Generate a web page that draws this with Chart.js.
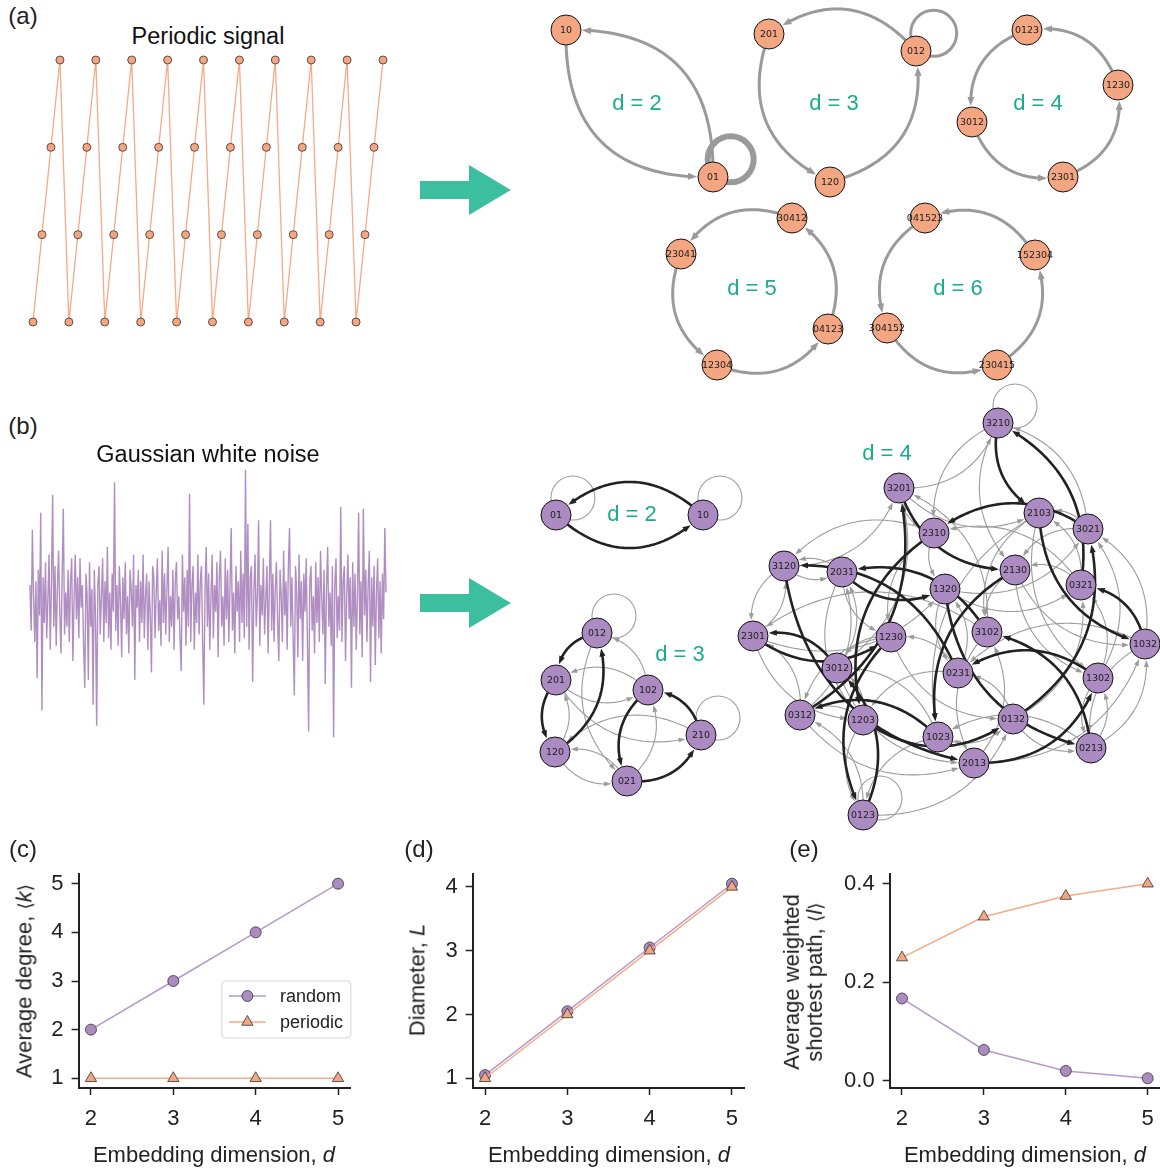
<!DOCTYPE html>
<html>
<head>
<meta charset="utf-8">
<script src="https://cdn.jsdelivr.net/npm/chart.js@4.4.1/dist/chart.umd.min.js"></script>
<style>
html,body{margin:0;padding:0;background:#fff;}
#fig{position:relative;width:1160px;height:1170px;overflow:hidden;background:#fff;font-family:"Liberation Sans",Arial,Helvetica,sans-serif;color:#1a1a1a;}
#fig canvas{position:absolute;}
.t{position:absolute;white-space:nowrap;transform:translate(-50%,-50%);line-height:1;}
.pl{font-size:24px;color:#222;}
.ttl{font-size:23.5px;color:#111;}
.dl{font-size:22px;color:#19ad8b;}
.ax{font-size:22px;color:#222;}
.yax{transform:translate(-50%,-50%) rotate(-90deg);text-align:center;line-height:1.05;}
.br{font-family:"DejaVu Sans",sans-serif;font-size:19px;}
</style>
</head>
<body>
<div id="fig">
  <svg width="1160" height="1170" style="position:absolute;left:0;top:0">
    <polygon points="420,181 469,181 469,165 511,190 469,215 469,199 420,199" fill="#3cbf9f"/>
    <polygon points="420,594 469,594 469,578 511,603 469,628 469,612 420,612" fill="#3cbf9f"/>
  </svg>

  <canvas id="cPer" width="376" height="284" style="left:20px;top:50px"></canvas>
  <canvas id="cNoise" width="376" height="290" style="left:20px;top:460px"></canvas>
  <canvas id="cNetA" width="640" height="390" style="left:520px;top:0px"></canvas>
  <canvas id="cNetB" width="640" height="460" style="left:520px;top:380px"></canvas>
  <canvas id="cDeg" width="380" height="300" style="left:0px;top:860px"></canvas>
  <canvas id="cDia" width="380" height="300" style="left:390px;top:860px"></canvas>
  <canvas id="cPath" width="380" height="300" style="left:780px;top:860px"></canvas>

  <div class="t pl" style="left:23px;top:16px">(a)</div>
  <div class="t pl" style="left:23px;top:426px">(b)</div>
  <div class="t pl" style="left:23px;top:849px">(c)</div>
  <div class="t pl" style="left:419px;top:849px">(d)</div>
  <div class="t pl" style="left:804px;top:849px">(e)</div>

  <div class="t ttl" style="left:208px;top:37px">Periodic signal</div>
  <div class="t ttl" style="left:208px;top:455px">Gaussian white noise</div>

  <div class="t dl" style="left:637px;top:103px">d = 2</div>
  <div class="t dl" style="left:834px;top:103px">d = 3</div>
  <div class="t dl" style="left:1038px;top:103px">d = 4</div>
  <div class="t dl" style="left:752px;top:288px">d = 5</div>
  <div class="t dl" style="left:958px;top:288px">d = 6</div>
  <div class="t dl" style="left:632px;top:514px">d = 2</div>
  <div class="t dl" style="left:680px;top:654px">d = 3</div>
  <div class="t dl" style="left:887px;top:453px">d = 4</div>

  <div class="t ax" style="left:214px;top:1155px">Embedding dimension, <i>d</i></div>
  <div class="t ax" style="left:609px;top:1155px">Embedding dimension, <i>d</i></div>
  <div class="t ax" style="left:1025px;top:1155px">Embedding dimension, <i>d</i></div>
  <div class="t ax yax" style="left:24px;top:981px">Average degree, <span class="br">⟨</span><i>k</i><span class="br">⟩</span></div>
  <div class="t ax yax" style="left:417px;top:980px">Diameter, <i>L</i></div>
  <div class="t ax yax" style="left:803px;top:982px">Average weighted<br>shortest path, <span class="br">⟨</span><i>l</i><span class="br">⟩</span></div>
</div>

<script>
// ================= DATA =================
const periodicSignal = [0,1,2,3, 0,1,2,3, 0,1,2,3, 0,1,2,3, 0,1,2,3,
                        0,1,2,3, 0,1,2,3, 0,1,2,3, 0,1,2,3, 0,1,2,3];

const noiseSignal = [
 0.5,-0.7,1.95,0.2,-1.0,0.6,-1.95,0.9,-0.3,2.4,-2.8,0.7,-0.5,1.1,-0.9,0.1,1.3,-1.2,0.5,2.87,
 -0.6,1.0,-1.1,0.4,1.4,-0.2,-1.3,0.7,2.5,-0.8,0.3,-0.6,0.9,-1.0,0.6,1.2,-1.5,0.1,1.3,-0.4,
 0.7,-0.9,1.2,-0.1,0.5,-1.1,-2.2,0.8,0.2,-2.0,1.1,-0.6,0.4,-2.65,0.9,-0.3,-3.2,0.5,1.0,-0.8,
 0.2,1.2,-1.0,0.6,-0.5,1.5,-0.9,0.3,-1.2,0.8,-0.2,3.2,-0.7,0.5,-1.1,1.0,0.1,-1.4,0.7,-0.4,
 1.1,-0.8,0.2,-1.3,0.9,0.4,-0.6,1.3,-2.0,0.5,-0.1,0.9,-1.0,0.6,-0.5,1.3,-0.9,0.2,0.8,-1.2,
 0.6,-0.3,-1.8,1.0,0.7,-0.9,0.3,1.2,-0.7,0.1,-1.1,1.4,-0.5,0.8,-0.8,0.4,1.5,-1.0,0.2,-0.6,
 0.9,-1.2,0.6,1.1,-0.4,0.2,-0.9,-1.76,1.3,-0.2,0.7,-1.1,0.9,-0.6,2.9,-1.0,0.5,1.0,-1.2,0.3,
 -0.5,1.3,-0.8,0.6,1.0,-1.0,-2.65,0.4,1.5,-0.6,0.8,-1.2,0.2,1.3,-0.9,0.5,-0.2,1.1,-1.4,0.7,
 1.4,-0.6,0.2,-1.1,1.2,-0.4,0.9,-1.0,0.5,2.0,-0.7,0.3,-1.3,1.0,-0.2,0.6,-1.0,1.4,-0.5,0.8,
 -0.9,3.53,-0.6,2.1,-1.2,0.7,1.0,-2.05,0.3,1.3,-0.6,0.2,2.2,-1.1,0.5,-0.3,1.2,-0.8,0.1,1.0,
 -1.3,0.5,2.2,-0.7,0.8,-1.0,0.4,1.1,-0.5,-1.5,0.9,0.2,-1.0,1.4,-0.3,0.6,-1.2,1.0,2.0,-0.6,
 0.7,-0.9,-2.4,1.0,0.3,-1.4,1.3,-0.4,0.6,-1.5,0.8,-0.2,1.2,-1.0,-3.35,0.6,1.0,-0.7,0.2,-1.3,
 1.1,-0.5,0.7,-1.0,1.4,0.2,-0.8,0.9,-2.1,0.4,1.5,-0.6,0.3,-1.1,1.0,-3.5,0.5,1.2,-0.9,0.2,
 -0.7,2.55,-1.0,0.6,1.0,-1.5,0.2,1.3,-0.4,0.7,-2.2,1.1,-0.6,0.8,-1.2,0.2,2.4,-0.8,0.6,-1.4,
 2.5,-0.3,0.9,-1.0,0.5,1.4,-2.05,0.7,-0.6,1.0,-1.6,0.3,1.2,-0.9,0.6,-1.3,0.8,-0.4,2.0,0.3
];

// panel (c)-(e)
const dims = [2, 3, 4, 5];
const degreeRandom = [2, 3, 4, 5];
const degreePeriodic = [1, 1, 1, 1];
const diameterRandom = [1.05, 2.05, 3.05, 4.05];
const diameterPeriodic = [1, 2, 3, 4];
const pathRandom = [0.167, 0.0625, 0.02, 0.005];
const pathPeriodic = [0.25, 0.333, 0.375, 0.4];
const degreeTicks = [1, 2, 3, 4, 5];
const diameterTicks = [1, 2, 3, 4];
const pathTicks = [0.0, 0.2, 0.4];
const seriesNames = ['random', 'periodic'];

// ordinal-pattern networks, periodic signal (layout units)
const perNodesD2 = ['10', '01'];
const perLayoutD2 = [[4.6, 3.0], [19.3, 17.7]];
const perEdgesD2 = [['10','01',0.25], ['01','10',0.25], ['01','01',0.5]];

const perNodesD3 = ['201', '012', '120'];
const perLayoutD3 = [[24.9, 3.4], [39.6, 5.1], [31.0, 18.2]];
const perEdgesD3 = [['012','201',0.25], ['201','120',0.25], ['120','012',0.25], ['012','012',0.25]];

const perNodesD4 = ['0123', '1230', '2301', '3012'];
const perLayoutD4 = [[50.7, 3.0], [59.8, 8.5], [54.3, 17.7], [45.2, 12.2]];
const perEdgesD4 = [['0123','3012',0.25], ['3012','2301',0.25], ['2301','1230',0.25], ['1230','0123',0.25]];

const perNodesD5 = ['30412', '23041', '12304', '04123'];
const perLayoutD5 = [[27.2, 21.8], [16.1, 25.4], [19.7, 36.5], [30.8, 32.9]];
const perEdgesD5 = [['30412','23041',0.25], ['23041','12304',0.25], ['12304','04123',0.25], ['04123','30412',0.25]];

const perNodesD6 = ['041523', '152304', '230415', '304152'];
const perLayoutD6 = [[40.5, 21.8], [51.5, 25.5], [47.7, 36.5], [36.7, 32.8]];
const perEdgesD6 = [['041523','304152',0.25], ['304152','230415',0.25], ['230415','152304',0.25], ['152304','041523',0.25]];

// ordinal-pattern networks, white noise (weight 2 = dominant transition, 1 = other)
const rndNodesD2 = ['01', '10'];
const rndLayoutD2 = [[3.6, 13.5], [18.3, 13.5]];
const rndEdgesD2 = [['01','10',2], ['01','01',1], ['10','01',2], ['10','10',1]];

const rndNodesD3 = ['012', '201', '102', '210', '120', '021'];
const rndLayoutD3 = [[7.7, 25.3], [3.6, 30.0], [12.8, 31.0], [18.1, 35.5], [3.5, 37.2], [10.7, 40.1]];
const rndEdgesD3 = [
 ['012','201',2], ['012','021',1], ['012','012',1],
 ['021','210',2], ['021','120',1], ['021','102',1],
 ['102','201',1], ['102','021',2], ['102','012',1],
 ['120','201',1], ['120','021',1], ['120','012',2],
 ['201','210',1], ['201','120',2], ['201','102',1],
 ['210','210',1], ['210','120',1], ['210','102',2]
];

const rndNodesD4 = ['3210','3201','2310','2103','3021','3120','2031','2130','0321','1320','2301','1230',
                    '3102','1032','3012','0231','1302','0312','1203','1023','0132','0213','2013','0123'];
const rndLayoutD4 = [[47.8,4.3],[37.9,10.8],[41.4,15.3],[51.9,13.3],[56.8,14.9],[26.4,18.6],[32.2,19.2],[49.5,19.0],
                     [56.1,20.5],[42.5,20.9],[23.3,25.6],[37.1,25.7],[46.7,25.2],[62.5,26.4],[31.7,28.8],[43.8,29.3],
                     [57.8,29.8],[28.0,33.5],[34.3,34.0],[41.8,35.7],[49.3,33.9],[57.1,36.8],[45.4,38.3],[34.3,43.5]];
const rndEdgesD4 = [
 ['0123','3012',2],['0123','0312',1],['0123','0132',1],['0123','0123',1],
 ['0132','3021',2],['0132','0321',1],['0132','0231',1],['0132','0213',1],
 ['0213','3102',2],['0213','1302',1],['0213','1032',1],['0213','1023',1],
 ['0231','3120',2],['0231','1320',1],['0231','1230',1],['0231','1203',1],
 ['0312','3201',2],['0312','2301',1],['0312','2031',1],['0312','2013',1],
 ['0321','3210',2],['0321','2310',1],['0321','2130',1],['0321','2103',1],
 ['1023','3012',1],['1023','0312',2],['1023','0132',1],['1023','0123',1],
 ['1032','3021',1],['1032','0321',2],['1032','0231',1],['1032','0213',1],
 ['1203','3012',1],['1203','0312',1],['1203','0132',2],['1203','0123',1],
 ['1230','3012',1],['1230','0312',1],['1230','0132',1],['1230','0123',2],
 ['1302','3021',1],['1302','0321',1],['1302','0231',2],['1302','0213',1],
 ['1320','3021',1],['1320','0321',1],['1320','0231',1],['1320','0213',2],
 ['2013','3102',1],['2013','1302',2],['2013','1032',1],['2013','1023',1],
 ['2031','3120',1],['2031','1320',2],['2031','1230',1],['2031','1203',1],
 ['2103','3102',1],['2103','1302',1],['2103','1032',2],['2103','1023',1],
 ['2130','3102',1],['2130','1302',1],['2130','1032',1],['2130','1023',2],
 ['2301','3120',1],['2301','1320',1],['2301','1230',2],['2301','1203',1],
 ['2310','3120',1],['2310','1320',1],['2310','1230',1],['2310','1203',2],
 ['3012','3201',1],['3012','2301',2],['3012','2031',1],['3012','2013',1],
 ['3021','3210',1],['3021','2310',2],['3021','2130',1],['3021','2103',1],
 ['3102','3201',1],['3102','2301',1],['3102','2031',2],['3102','2013',1],
 ['3120','3201',1],['3120','2301',1],['3120','2031',1],['3120','2013',2],
 ['3201','3210',1],['3201','2310',1],['3201','2130',2],['3201','2103',1],
 ['3210','3210',1],['3210','2310',1],['3210','2130',1],['3210','2103',2]
];

// ================= STYLE / DRAWING =================
const SANS = '"Liberation Sans", Arial, Helvetica, sans-serif';
const PURPLE = '#ab8bc1', PURPLE_LINE = '#b798cb', ORANGE = '#f4a582', ORANGE_LINE = '#f6aa88';
const NODE_R = 15;

function qb(a, c, b, t) {
  const u = 1 - t;
  return [u*u*a[0] + 2*u*t*c[0] + t*t*b[0], u*u*a[1] + 2*u*t*c[1] + t*t*b[1]];
}
function findT(a, c, b, center, rr, fromEnd) {
  let lo = fromEnd ? 0.5 : 0, hi = fromEnd ? 1 : 0.5;
  for (let k = 0; k < 40; k++) {
    const m = (lo + hi) / 2, q = qb(a, c, b, m);
    const d = Math.hypot(q[0] - center[0], q[1] - center[1]);
    if (fromEnd) { if (d > rr) lo = m; else hi = m; }
    else { if (d < rr) lo = m; else hi = m; }
  }
  return (lo + hi) / 2;
}
function drawEdge(ctx, a, b, loop, st, rad) {
  ctx.save();
  ctx.strokeStyle = st.color; ctx.fillStyle = st.color; ctx.lineWidth = st.width;
  if (loop) {
    const c = [a[0] + st.loopOff * Math.SQRT1_2, a[1] - st.loopOff * Math.SQRT1_2];
    ctx.beginPath(); ctx.arc(c[0], c[1], st.loopR, 0, 2 * Math.PI); ctx.stroke();
    ctx.restore(); return;
  }
  const dx = b[0] - a[0], dy = b[1] - a[1];
  const c = [(a[0] + b[0]) / 2 - rad * dy, (a[1] + b[1]) / 2 + rad * dx];
  const t0 = findT(a, c, b, a, NODE_R, false);
  const tTip = findT(a, c, b, b, NODE_R + 1, true);
  const tBase = findT(a, c, b, b, NODE_R + 1 + st.al, true);
  const tEnd = tBase + (tTip - tBase) * 0.3;
  ctx.beginPath();
  const N = 48;
  for (let k = 0; k <= N; k++) {
    const q = qb(a, c, b, t0 + (tEnd - t0) * k / N);
    if (k === 0) ctx.moveTo(q[0], q[1]); else ctx.lineTo(q[0], q[1]);
  }
  ctx.stroke();
  const tip = qb(a, c, b, tTip), base = qb(a, c, b, tBase);
  let ux = tip[0] - base[0], uy = tip[1] - base[1];
  const L = Math.hypot(ux, uy) || 1; ux /= L; uy /= L;
  const hw = st.aw / 2;
  ctx.beginPath();
  ctx.moveTo(tip[0], tip[1]);
  ctx.lineTo(base[0] - uy * hw, base[1] + ux * hw);
  ctx.lineTo(base[0] + uy * hw, base[1] - ux * hw);
  ctx.closePath(); ctx.fill();
  ctx.restore();
}
function makeGraphPlugin(pid, graphs) {
  function pix(chart, g) {
    const sx = chart.scales.x, sy = chart.scales.y, P = {};
    g.nodes.forEach((n, i) => { P[n] = [sx.getPixelForValue(g.layout[i][0]), sy.getPixelForValue(g.layout[i][1])]; });
    return P;
  }
  return {
    id: pid,
    beforeDatasetsDraw(chart) {
      const ctx = chart.ctx;
      graphs.forEach(g => {
        const P = pix(chart, g);
        const ordered = g.edges.slice().sort((e1, e2) => e1[2] - e2[2]);
        ordered.forEach(e => drawEdge(ctx, P[e[0]], P[e[1]], e[0] === e[1], g.style(e[2]), g.rad));
      });
    },
    afterDatasetsDraw(chart) {
      const ctx = chart.ctx;
      ctx.save();
      ctx.fillStyle = '#222'; ctx.textAlign = 'center'; ctx.textBaseline = 'middle';
      ctx.font = '9.5px "DejaVu Sans", sans-serif';
      graphs.forEach(g => {
        const P = pix(chart, g);
        g.nodes.forEach(n => ctx.fillText(n, P[n][0], P[n][1] + 0.5));
      });
      ctx.restore();
    }
  };
}
function graphChart(id, pid, graphs, xMax, yMax, fill) {
  const pts = [];
  graphs.forEach(g => g.layout.forEach(p => pts.push({x: p[0], y: p[1]})));
  return new Chart(document.getElementById(id), {
    type: 'scatter',
    data: {datasets: [{data: pts, pointRadius: NODE_R, pointHoverRadius: NODE_R, backgroundColor: fill,
                       borderColor: '#111', borderWidth: 1, clip: false}]},
    options: {
      responsive: false, animation: false, events: [], layout: {padding: 0, autoPadding: false},
      plugins: {legend: {display: false}, tooltip: {enabled: false}},
      scales: {x: {type: 'linear', display: false, min: 0, max: xMax},
               y: {type: 'linear', display: false, min: 0, max: yMax, reverse: true}}
    },
    plugins: [makeGraphPlugin(pid, graphs)]
  });
}

const perStyle = w => ({color: '#9a9a9a', width: 12 * w, al: 9, aw: 7, loopOff: 25, loopR: 23});
const rndStyle = w => w > 1
  ? {color: '#222', width: 2.6, al: 8, aw: 6, loopOff: 24, loopR: 22}
  : {color: '#9c9c9c', width: 1.1, al: 7, aw: 5, loopOff: 24, loopR: 22};

graphChart('cNetA', 'graphA', [
  {nodes: perNodesD2, layout: perLayoutD2, edges: perEdgesD2, rad: 0.52, style: perStyle},
  {nodes: perNodesD3, layout: perLayoutD3, edges: perEdgesD3, rad: 0.45, style: perStyle},
  {nodes: perNodesD4, layout: perLayoutD4, edges: perEdgesD4, rad: 0.41, style: perStyle},
  {nodes: perNodesD5, layout: perLayoutD5, edges: perEdgesD5, rad: 0.41, style: perStyle},
  {nodes: perNodesD6, layout: perLayoutD6, edges: perEdgesD6, rad: 0.41, style: perStyle}
], 64, 39, ORANGE);

graphChart('cNetB', 'graphB', [
  {nodes: rndNodesD2, layout: rndLayoutD2, edges: rndEdgesD2, rad: 0.45, style: rndStyle},
  {nodes: rndNodesD3, layout: rndLayoutD3, edges: rndEdgesD3, rad: 0.38, style: rndStyle},
  {nodes: rndNodesD4, layout: rndLayoutD4, edges: rndEdgesD4, rad: 0.36, style: rndStyle}
], 64, 46, PURPLE);

// ---- signals ----
new Chart(document.getElementById('cPer'), {
  type: 'line',
  data: {datasets: [{data: periodicSignal.map((v, i) => ({x: i, y: v})), borderColor: ORANGE_LINE, borderWidth: 1.3,
    pointRadius: 4, pointBackgroundColor: ORANGE, pointBorderColor: '#333', pointBorderWidth: 0.8, tension: 0, clip: false}]},
  options: {responsive: false, animation: false, events: [],
    layout: {padding: {left: 13, right: 13, top: 10, bottom: 12}, autoPadding: false},
    plugins: {legend: {display: false}, tooltip: {enabled: false}},
    scales: {x: {type: 'linear', display: false, min: 0, max: periodicSignal.length - 1},
             y: {type: 'linear', display: false, min: 0, max: 3}}}
});

new Chart(document.getElementById('cNoise'), {
  type: 'line',
  data: {datasets: [{data: noiseSignal.map((v, i) => ({x: i, y: v})), borderColor: '#b08ec2', borderWidth: 1.4,
    pointRadius: 0, tension: 0, clip: false}]},
  options: {responsive: false, animation: false, events: [],
    layout: {padding: {left: 10, right: 10, top: 7, bottom: 9}, autoPadding: false},
    plugins: {legend: {display: false}, tooltip: {enabled: false}},
    scales: {x: {type: 'linear', display: false, min: 0, max: noiseSignal.length - 1},
             y: {type: 'linear', display: false, min: -3.6, max: 3.6}}}
});

// ---- metric charts ----
function mplLimits(arr) {
  const mn = Math.min(...arr), mx = Math.max(...arr), m = (mx - mn) * 0.05;
  return [mn - m, mx + m];
}
const legendPlugin = {
  id: 'boxLegend',
  afterDraw(chart) {
    const ctx = chart.ctx, a = chart.chartArea;
    const w = 129, h = 57, x0 = a.right - 128.5, y0 = a.bottom - 107;
    ctx.save();
    ctx.beginPath();
    if (ctx.roundRect) ctx.roundRect(x0, y0, w, h, 4); else ctx.rect(x0, y0, w, h);
    ctx.fillStyle = 'rgba(255,255,255,0.85)'; ctx.fill();
    ctx.strokeStyle = '#d6d6d6'; ctx.lineWidth = 1; ctx.stroke();
    const rows = [
      {y: y0 + 15, line: PURPLE_LINE, fill: PURPLE, style: 'circle', r: 5.5, name: seriesNames[0]},
      {y: y0 + 41, line: ORANGE_LINE, fill: ORANGE, style: 'triangle', r: 6.5, name: seriesNames[1]}
    ];
    rows.forEach(rw => {
      ctx.strokeStyle = rw.line; ctx.lineWidth = 1.5;
      ctx.beginPath(); ctx.moveTo(x0 + 7, rw.y); ctx.lineTo(x0 + 44, rw.y); ctx.stroke();
      ctx.fillStyle = rw.fill; ctx.strokeStyle = '#333'; ctx.lineWidth = 0.8;
      Chart.helpers.drawPoint(ctx, {pointStyle: rw.style, radius: rw.r, borderWidth: 0.8, rotation: 0}, x0 + 25.5, rw.y);
      ctx.fillStyle = '#222'; ctx.font = '18px ' + SANS; ctx.textAlign = 'left'; ctx.textBaseline = 'middle';
      ctx.fillText(rw.name, x0 + 58, rw.y + 1);
    });
    ctx.restore();
  }
};
function metricChart(id, randomVals, periodicVals, yTicks, fmt, yAxisW, padRight, extra) {
  const [yMin, yMax] = mplLimits(randomVals.concat(periodicVals));
  const axisCommon = {
    grid: {display: true, drawOnChartArea: false, drawTicks: true, tickLength: 7, tickWidth: 1.5, tickColor: '#222'},
    border: {display: true, color: '#222', width: 2}
  };
  return new Chart(document.getElementById(id), {
    type: 'line',
    data: {datasets: [
      {label: seriesNames[0], data: dims.map((d, i) => ({x: d, y: randomVals[i]})), borderColor: PURPLE_LINE, borderWidth: 1.5,
       pointStyle: 'circle', pointRadius: 5.5, pointBackgroundColor: PURPLE, pointBorderColor: '#333', pointBorderWidth: 0.8,
       tension: 0, order: 2, clip: false},
      {label: seriesNames[1], data: dims.map((d, i) => ({x: d, y: periodicVals[i]})), borderColor: ORANGE_LINE, borderWidth: 1.5,
       pointStyle: 'triangle', pointRadius: 6.5, pointBackgroundColor: ORANGE, pointBorderColor: '#333', pointBorderWidth: 0.8,
       tension: 0, order: 1, clip: false}
    ]},
    options: {
      responsive: false, animation: false, events: [],
      layout: {padding: {left: 0, top: 14, right: padRight, bottom: 0}, autoPadding: false},
      plugins: {legend: {display: false}, tooltip: {enabled: false}},
      scales: {
        x: Object.assign({
          type: 'linear', min: 1.85, max: 5.15,
          afterBuildTicks: s => { s.ticks = dims.map(v => ({value: v})); },
          afterFit: s => { s.height = 72; s.paddingLeft = 0; s.paddingRight = 0; s.paddingTop = 0; s.paddingBottom = 0; },
          ticks: {font: {family: SANS, size: 22}, color: '#222', padding: 11, maxRotation: 0, callback: v => String(v)}
        }, axisCommon),
        y: Object.assign({
          type: 'linear', min: yMin, max: yMax,
          afterBuildTicks: s => { s.ticks = yTicks.map(v => ({value: v})); },
          afterFit: s => { s.width = yAxisW; s.paddingLeft = 0; s.paddingRight = 0; s.paddingTop = 0; s.paddingBottom = 0; },
          ticks: {font: {family: SANS, size: 22}, color: '#222', padding: 8, callback: fmt}
        }, axisCommon)
      }
    },
    plugins: extra
  });
}
metricChart('cDeg', degreeRandom, degreePeriodic, degreeTicks, v => String(v), 78.6, 29.6, [legendPlugin]);
metricChart('cDia', diameterRandom, diameterPeriodic, diameterTicks, v => String(v), 82.7, 25.7, []);
metricChart('cPath', pathRandom, pathPeriodic, pathTicks, v => v.toFixed(1), 109.7, 0, []);
</script>
</body>
</html>
